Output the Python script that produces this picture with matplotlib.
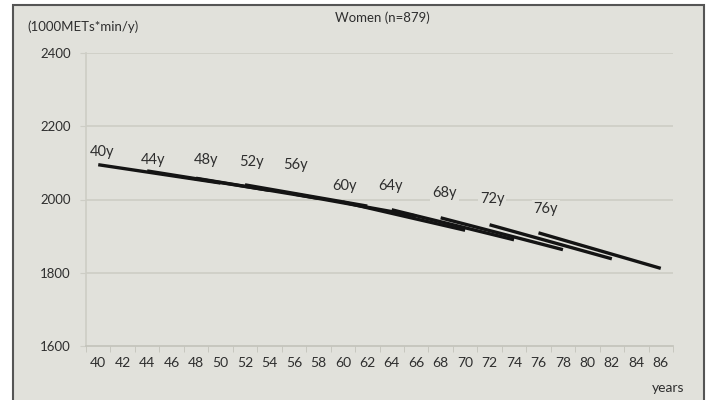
import matplotlib.pyplot as plt
from matplotlib.patches import Rectangle

# cohort trajectories: each baseline age followed for 10 years
cohorts = [40, 44, 48, 52, 56, 60, 64, 68, 72, 76]
start_vals = [2095, 2078, 2058, 2040, 2015, 1993, 1972, 1950, 1931, 1909]
end_vals = [2045, 2025, 2003, 1982, 1955, 1916, 1890, 1863, 1838, 1812]
follow_up = 10

cohort_labels = [f"{c}y" for c in cohorts]
x_ticks = list(range(40, 87, 2))
y_ticks = [1600, 1800, 2000, 2200, 2400]

# where the cohort tags sit (x, y in data units)
label_x = [40.3, 44.5, 48.8, 52.5, 56.1, 60.1, 63.9, 68.3, 72.2, 76.6]
label_y = [2129, 2107, 2107, 2102, 2093, 2036, 2036, 2017, 2001, 1974]

bg = "#e1e1db"
grid_c = "#cdcdc5"
text_c = "#2e2e2e"

plt.rcParams["font.family"] = ["Lato", "DejaVu Sans"]

fig = plt.figure(figsize=(7.1, 4.0), dpi=100)
fig.patch.set_facecolor("white")
frame = Rectangle((13 / 710, -0.01), 691 / 710, 1 - 4.5 / 400 + 0.01,
                  transform=fig.transFigure, facecolor=bg,
                  edgecolor="#555555", linewidth=1.5, zorder=-10)
fig.patches.append(frame)

ax = fig.add_axes([86 / 710, 1 - 346 / 400, (673 - 86) / 710, (346 - 53) / 400])
ax.set_zorder(5)
ax.set_facecolor(bg)
ax.set_xlim(39, 87)
ax.set_ylim(1600, 2400)

for y in y_ticks[1:]:
    ax.axhline(y, color=grid_c, lw=1.2, zorder=1)

for c, s, e in zip(cohorts, start_vals, end_vals):
    ax.plot([c, c + follow_up], [s, e], color="#141414", lw=2.4,
            solid_capstyle="butt", zorder=3)

for lx, ly, t in zip(label_x, label_y, cohort_labels):
    ax.text(lx, ly, t, ha="center", va="center", fontsize=10.5, color=text_c,
            bbox=dict(facecolor=bg, edgecolor="none", pad=1.5), zorder=2)

for side in ["top", "right"]:
    ax.spines[side].set_visible(False)
ax.spines["left"].set_color(grid_c)
ax.spines["bottom"].set_color("#c2c2ba")
ax.spines["left"].set_linewidth(1.2)
ax.spines["bottom"].set_linewidth(1.2)

ax.set_yticks(y_ticks)
ax.set_yticklabels([str(v) for v in y_ticks], fontsize=9.5, color=text_c)
ax.tick_params(axis="y", length=4, color=grid_c, pad=7)

# category-style axis: tick marks between labels
ax.set_xticks(x_ticks)
ax.set_xticklabels([str(v) for v in x_ticks], fontsize=10, color=text_c)
ax.set_xticks(list(range(39, 88, 2)), minor=True)
ax.tick_params(axis="x", which="major", length=0, pad=8)
ax.tick_params(axis="x", which="minor", length=4, color="#c2c2ba")

fig.text(27 / 710, 1 - 27 / 400, "(1000METs*min/y)", fontsize=9.5, color=text_c,
         ha="left", va="center")
fig.text(382 / 710, 1 - 18 / 400, "Women (n=879)", fontsize=9.5, color=text_c,
         ha="center", va="center")
fig.text(668 / 710, 1 - 388 / 400, "years", fontsize=10, color=text_c,
         ha="center", va="center")

fig.savefig("out.png", dpi=100, facecolor=fig.get_facecolor())
